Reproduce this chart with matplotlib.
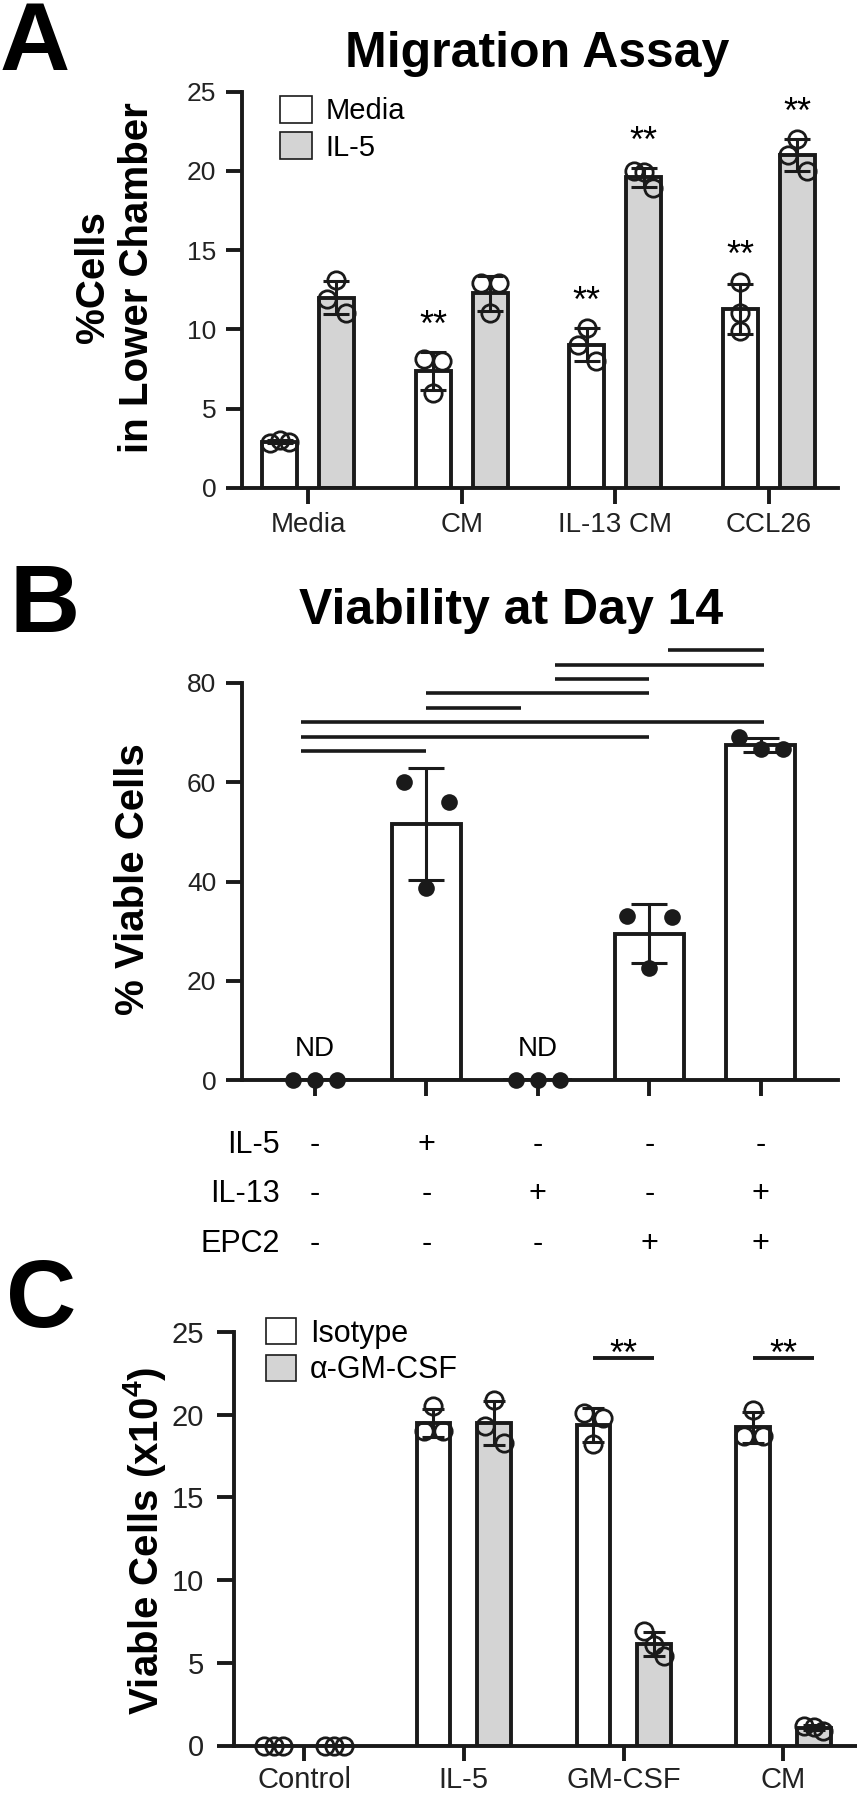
import matplotlib.pyplot as plt
import matplotlib.transforms as mtransforms
from matplotlib.patches import Patch
import numpy as np

plt.rcParams['font.family'] = ['Liberation Sans', 'DejaVu Sans']
plt.rcParams['mathtext.fontset'] = 'custom'
plt.rcParams['mathtext.rm'] = 'Liberation Sans'
plt.rcParams['mathtext.bf'] = 'Liberation Sans:bold'

# ---------------- data ----------------
# A: migration assay (% cells in lower chamber, 3 replicates)
groups_a = ['Media', 'CM', 'IL-13 CM', 'CCL26']
media_a = [[2.8, 3.0, 2.9], [8.1, 8.0, 6.0], [10.1, 9.0, 8.0], [13.0, 11.0, 9.9]]
il5_a = [[13.1, 11.9, 11.0], [12.9, 12.9, 11.0], [20.0, 19.9, 18.9], [21.0, 22.0, 20.0]]
stars_media_a = ['', '**', '**', '**']
stars_il5_a = ['', '', '**', '**']

# B: viability at day 14 (% viable cells)
viab_b = [[0, 0, 0], [60.0, 56.0, 38.8], [0, 0, 0], [33.0, 32.8, 22.6], [69.1, 66.6, 66.6]]
nd_b = ['ND', '', 'ND', '', '']
row_names_b = ['IL-5', 'IL-13', 'EPC2']
il5_row = ['-', '+', '-', '-', '-']
il13_row = ['-', '-', '+', '-', '+']
epc2_row = ['-', '-', '-', '+', '+']
sig_pairs_b = [(0, 1), (0, 3), (0, 4), (1, 2), (1, 3), (2, 3), (2, 4), (3, 4)]

# C: viable cells (x10^4)
groups_c = ['Control', 'IL-5', 'GM-CSF', 'CM']
iso_c = [[0, 0, 0], [20.5, 19.0, 19.0], [20.1, 19.8, 18.2], [20.3, 18.7, 18.7]]
agm_c = [[0, 0, 0], [20.9, 19.3, 18.3], [6.9, 6.1, 5.4], [1.2, 1.1, 0.9]]
stars_c = ['', '', '**', '**']

# ---------------- style ----------------
EDGE = '#1a1a1a'
GRAY = '#d4d4d4'
LW = 2.8

W, H = 857, 1800
fig = plt.figure(figsize=(W / 100, H / 100), dpi=100)


def px_axes(left, right, top, bottom):
    # pixel box -> figure fraction
    return fig.add_axes([left / W, 1 - bottom / H, (right - left) / W, (bottom - top) / H])


def swarm(vals, step, thresh):
    # spread points that sit close together (prism-like scatter)
    vals = np.asarray(vals, float)
    order = np.argsort(vals, kind='stable')
    lab = np.zeros(len(vals), int)
    c = 0
    for k in range(1, len(order)):
        if vals[order[k]] - vals[order[k - 1]] > thresh:
            c += 1
        lab[order[k]] = c
    off = np.zeros(len(vals))
    for c in np.unique(lab):
        idx = np.where(lab == c)[0]
        if len(idx) > 1:
            off[idx] = np.linspace(-step, step, len(idx))
    return off


def style(ax, fs, ticklen, pad):
    for s in ['top', 'right']:
        ax.spines[s].set_visible(False)
    for s in ['left', 'bottom']:
        ax.spines[s].set_linewidth(LW)
        ax.spines[s].set_color(EDGE)
    ax.tick_params(width=LW, length=ticklen, pad=pad, labelsize=fs, color=EDGE, labelcolor='#222222')


def draw_series(ax, x, pts, color, width, step, thresh, ms, cap, filled=False):
    means = [np.mean(p) for p in pts]
    sds = [np.std(p, ddof=1) for p in pts]
    ax.bar(x, means, width, color=color, edgecolor=EDGE, linewidth=LW, zorder=2)
    ax.errorbar(x, means, yerr=sds, fmt='none', ecolor=EDGE, elinewidth=2.2,
                capsize=cap, capthick=2.2, zorder=3)
    for xi, p in zip(x, pts):
        xo = xi + swarm(p, step, thresh)
        if filled:
            ax.plot(xo, p, 'o', color=EDGE, ms=ms, mew=0, zorder=4, clip_on=False)
        else:
            ax.plot(xo, p, 'o', mfc='none', mec=EDGE, ms=ms, mew=2.0, zorder=4, clip_on=False)
    return means, sds


# ================= Panel A =================
axA = px_axes(242, 838, 91.7, 487.7)
xa = np.arange(len(groups_a))
off_a, wa = 0.185, 0.228
for pts, col, dx, stars in [(media_a, 'white', -off_a, stars_media_a),
                            (il5_a, GRAY, off_a, stars_il5_a)]:
    m, s = draw_series(axA, xa + dx, pts, col, wa, 0.06, 1.0, 12.5, 9.5)
    for i, st in enumerate(stars):
        if st:
            top = max(max(pts[i]), m[i] + s[i])
            axA.text(xa[i] + dx, top + 1.0, st, ha='center', va='baseline', fontsize=26)
axA.set_xlim(-0.43, 3.45)
axA.set_ylim(0, 25)
axA.set_yticks([0, 5, 10, 15, 20, 25])
axA.set_xticks(xa, groups_a)
style(axA, 19, 11.5, 7)
axA.tick_params(axis='x', labelsize=20, pad=6)
axA.legend(handles=[Patch(fc='white', ec=EDGE, lw=1.2, label='Media'),
                    Patch(fc=GRAY, ec=EDGE, lw=1.2, label='IL-5')],
           loc='upper left', bbox_to_anchor=(0.064, 0.99), frameon=False, fontsize=21,
           handlelength=1.1, handleheight=1.05, handletextpad=0.45, labelspacing=0.25,
           borderpad=0, borderaxespad=0)

fig.text(0, 1 - 70 / H, 'A', fontsize=70, fontweight='bold', va='baseline', ha='left')
fig.text(537 / W, 1 - 66.7 / H, 'Migration Assay', fontsize=36, fontweight='bold',
         ha='center', va='baseline')
fig.text(115.5 / W, 1 - 277.5 / H, '%Cells\nin Lower Chamber', fontsize=29, fontweight='bold',
         rotation=90, ha='center', va='center', multialignment='center')

# ================= Panel B =================
axB = px_axes(242, 837.7, 682.9, 1080.2)
xb = np.arange(len(viab_b))
m_b, s_b = draw_series(axB, xb, viab_b, 'white', 0.62, 0.2, 5.0, 12, 13, filled=True)
for i, t in enumerate(nd_b):
    if t:
        axB.text(xb[i], 6.3, t, ha='center', va='center', fontsize=20)
axB.set_xlim(-0.655, 4.69)
axB.set_ylim(0, 80)
axB.set_yticks([0, 20, 40, 60, 80])
axB.set_xticks(xb)
axB.set_xticklabels([])
style(axB, 19, 11.5, 7)

# comparison lines
start_nudge = {0: -0.13, 1: 0.0, 2: 0.15, 3: 0.17}
end_nudge = {1: 0.0, 2: -0.15, 3: 0.0, 4: 0.03}
for k, (i, j) in enumerate(sig_pairs_b):
    yk = 66.3 + 2.9 * k
    axB.plot([xb[i] + start_nudge[i], xb[j] + end_nudge[j]], [yk, yk], color=EDGE,
             lw=2.6, solid_capstyle='butt', clip_on=False)

# treatment table under B
tb = mtransforms.blended_transform_factory(axB.transData, fig.transFigure)
for r, (name, row) in enumerate(zip(row_names_b, [il5_row, il13_row, epc2_row])):
    yrow = 1 - (1145 + 49.3 * r) / H
    fig.text(280 / W, yrow, name, ha='right', va='center', fontsize=22)
    for i, sgn in enumerate(row):
        axB.text(xb[i], yrow, sgn, transform=tb, ha='center', va='center', fontsize=22)

fig.text(9 / W, 1 - 631.5 / H, 'B', fontsize=70, fontweight='bold', va='baseline', ha='left')
fig.text(511 / W, 1 - 624 / H, 'Viability at Day 14', fontsize=36, fontweight='bold',
         ha='center', va='baseline')
fig.text(133 / W, 1 - 879 / H, '% Viable Cells', fontsize=29, fontweight='bold',
         rotation=90, ha='center', va='center')

# ================= Panel C =================
axC = px_axes(234, 857, 1332, 1745.5)
xc = np.arange(len(groups_c))
off_c, wc = 0.19, 0.21
draw_series(axC, xc - off_c, iso_c, 'white', wc, 0.06, 1.05, 12.5, 8)
draw_series(axC, xc + off_c, agm_c, GRAY, wc, 0.06, 1.05, 12.5, 8)
for i, st in enumerate(stars_c):
    if st:
        axC.plot([xc[i] - off_c, xc[i] + off_c], [23.4, 23.4], color=EDGE, lw=2.8,
                 solid_capstyle='butt', clip_on=False)
        axC.text(xc[i], 23.0, st, ha='center', va='baseline', fontsize=26)
axC.set_xlim(-0.438, 3.46)
axC.set_ylim(0, 25)
axC.set_yticks([0, 5, 10, 15, 20, 25])
axC.set_xticks(xc, groups_c)
style(axC, 21, 12, 9.5)
axC.tick_params(axis='x', labelsize=21, length=11, pad=3.5)
axC.legend(handles=[Patch(fc='white', ec=EDGE, lw=1.2, label='Isotype'),
                    Patch(fc=GRAY, ec=EDGE, lw=1.2, label='α-GM-CSF')],
           loc='upper left', bbox_to_anchor=(0.051, 1.034), frameon=False, fontsize=22,
           handlelength=1.0, handleheight=0.95, handletextpad=0.45, labelspacing=0.2,
           borderpad=0, borderaxespad=0)

fig.text(6 / W, 1 - 1327 / H, 'C', fontsize=70, fontweight='bold', va='baseline', ha='left')
fig.text(144.5 / W, 1 - 1541 / H, r'Viable Cells (x10$^{\mathregular{4}}$)', fontsize=29,
         fontweight='bold', rotation=90, ha='center', va='center')

fig.savefig('out.png', dpi=100)
